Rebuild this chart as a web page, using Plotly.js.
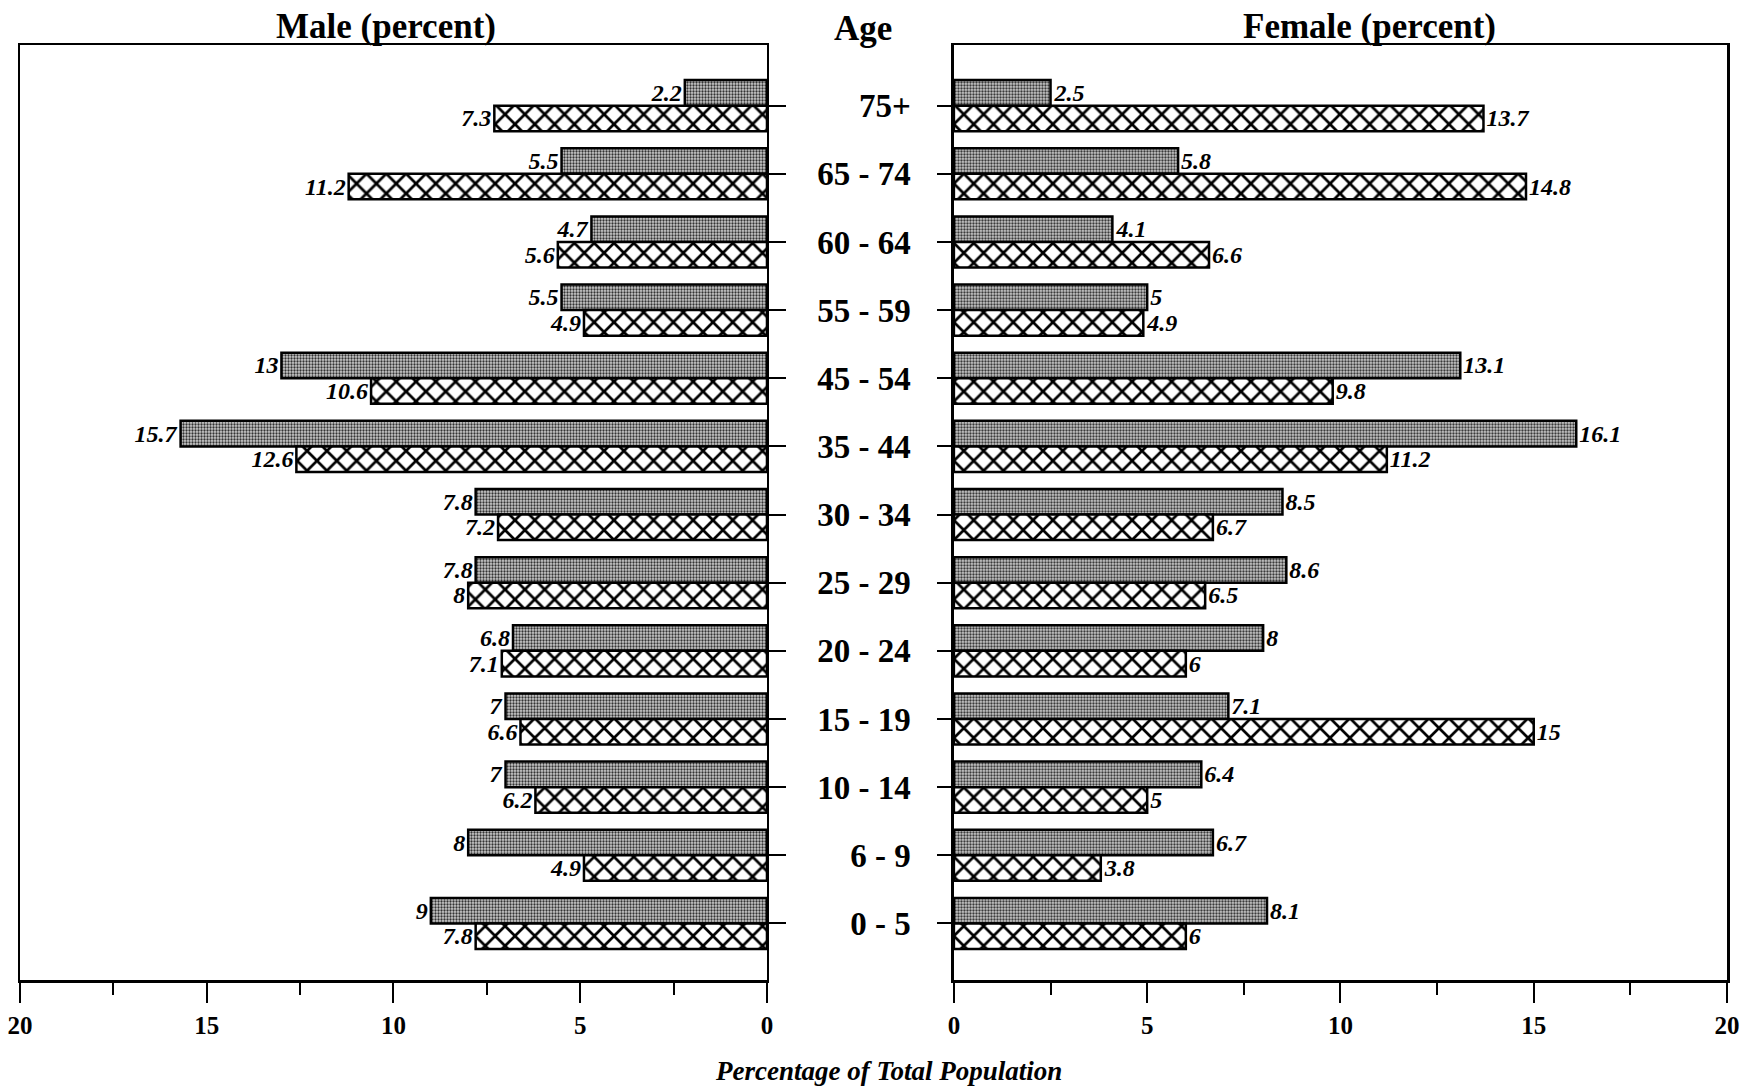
<!DOCTYPE html>
<html>
<head>
<meta charset="utf-8">
<script src="https://cdn.plot.ly/plotly-3.0.1.min.js"></script>
<style>html,body{margin:0;padding:0;background:#fff;}#chart{width:1743px;height:1086px;}</style>
</head>
<body>
<div id="chart"></div>
<script>
const ageGroups = ["75+", "65 - 74", "60 - 64", "55 - 59", "45 - 54", "35 - 44", "30 - 34", "25 - 29", "20 - 24", "15 - 19", "10 - 14", "6 - 9", "0 - 5"];
const maleShaded = [2.2, 5.5, 4.7, 5.5, 13, 15.7, 7.8, 7.8, 6.8, 7, 7, 8, 9];
const maleHatched = [7.3, 11.2, 5.6, 4.9, 10.6, 12.6, 7.2, 8, 7.1, 6.6, 6.2, 4.9, 7.8];
const femaleShaded = [2.5, 5.8, 4.1, 5, 13.1, 16.1, 8.5, 8.6, 8, 7.1, 6.4, 6.7, 8.1];
const femaleHatched = [13.7, 14.8, 6.6, 4.9, 9.8, 11.2, 6.7, 6.5, 6, 15, 5, 3.8, 6];
const xTicks = [0, 5, 10, 15, 20];

const serif = "Liberation Serif, Times New Roman, serif";
const labelFont = {family: serif, size: 24, style: "italic", weight: "bold", color: "#000"};

const shadedMarker = {
  color: "#b0b0b0",
  line: {color: "#000", width: 2.5},
  pattern: {shape: ".", size: 3, solidity: 0.45, fgcolor: "#333333", bgcolor: "#cccccc", fillmode: "replace"}
};
const hatchedMarker = {
  color: "#ffffff",
  line: {color: "#000", width: 2.5},
  pattern: {shape: "x", size: 14, solidity: 0.35, fgcolor: "#000", bgcolor: "#fff", fillmode: "replace"}
};

function barTrace(vals, marker, xa, ya, name) {
  return {
    type: "bar", orientation: "h", name: name,
    x: vals, y: ageGroups, xaxis: xa, yaxis: ya,
    marker: marker,
    text: vals.map(String), textposition: "outside", textfont: labelFont,
    constraintext: "none", cliponaxis: false, hoverinfo: "x+y", showlegend: false
  };
}

const data = [
  barTrace(maleShaded, shadedMarker, "x", "y", "Male shaded"),
  barTrace(maleHatched, hatchedMarker, "x", "y", "Male hatched"),
  barTrace(femaleShaded, shadedMarker, "x2", "y2", "Female shaded"),
  barTrace(femaleHatched, hatchedMarker, "x2", "y2", "Female hatched")
];

const tickFont = {family: serif, size: 25, weight: "bold", color: "#000"};
const xCommon = {
  tickvals: xTicks, ticktext: xTicks.map(String),
  ticks: "outside", ticklen: 20, tickwidth: 2, tickcolor: "#000",
  showline: true, linewidth: 2.5, linecolor: "#000", mirror: true,
  showgrid: false, zeroline: false, tickfont: tickFont, ticklabelstandoff: 1,
  ticklabeloverflow: "allow",
  minor: {tick0: 0, dtick: 2.5, ticks: "outside", ticklen: 12, tickwidth: 2, tickcolor: "#000", showgrid: false},
  fixedrange: true
};
const yRange = [12.83, -0.89];
const yCommon = {
  type: "category", categoryorder: "array", categoryarray: ageGroups,
  range: yRange, ticks: "outside", tickwidth: 2, tickcolor: "#000",
  showline: true, linewidth: 2.5, linecolor: "#000", mirror: true,
  showgrid: false, zeroline: false, fixedrange: true
};

const layout = {
  width: 1743, height: 1086,
  margin: {l: 20, r: 16, t: 45, b: 106},
  paper_bgcolor: "#fff", plot_bgcolor: "#fff",
  barmode: "group", bargap: 0.25, bargroupgap: 0,
  showlegend: false,
  font: {family: serif, color: "#000"},
  xaxis: Object.assign({}, xCommon, {domain: [0, 0.4376], range: [20, 0], anchor: "y"}),
  yaxis: Object.assign({}, yCommon, {anchor: "x", side: "right", ticklen: 17, showticklabels: false}),
  xaxis2: Object.assign({}, xCommon, {domain: [0.5471, 1], range: [0, 20], anchor: "y2"}),
  yaxis2: Object.assign({}, yCommon, {anchor: "x2", side: "left", ticklen: 14, showticklabels: true,
    tickfont: {family: serif, size: 33, weight: "bold", color: "#000"}, ticklabelstandoff: 20}),
  annotations: [
    {text: "Male (percent)", xref: "paper", yref: "paper", x: 0.2144, y: 1.02, xanchor: "center", yanchor: "middle",
     showarrow: false, font: {family: serif, size: 35, weight: "bold", color: "#000"}},
    {text: "Age", xref: "paper", yref: "paper", x: 0.4938, y: 1.018, xanchor: "center", yanchor: "middle",
     showarrow: false, font: {family: serif, size: 35, weight: "bold", color: "#000"}},
    {text: "Female (percent)", xref: "paper", yref: "paper", x: 0.7908, y: 1.02, xanchor: "center", yanchor: "middle",
     showarrow: false, font: {family: serif, size: 35, weight: "bold", color: "#000"}},
    {text: "Percentage of Total Population", xref: "paper", yref: "paper", x: 0.509, y: -0.0973, xanchor: "center", yanchor: "middle",
     showarrow: false, font: {family: serif, size: 27, weight: "bold", style: "italic", color: "#000"}}
  ]
};

Plotly.newPlot("chart", data, layout, {displayModeBar: false, staticPlot: true});
</script>
</body>
</html>
